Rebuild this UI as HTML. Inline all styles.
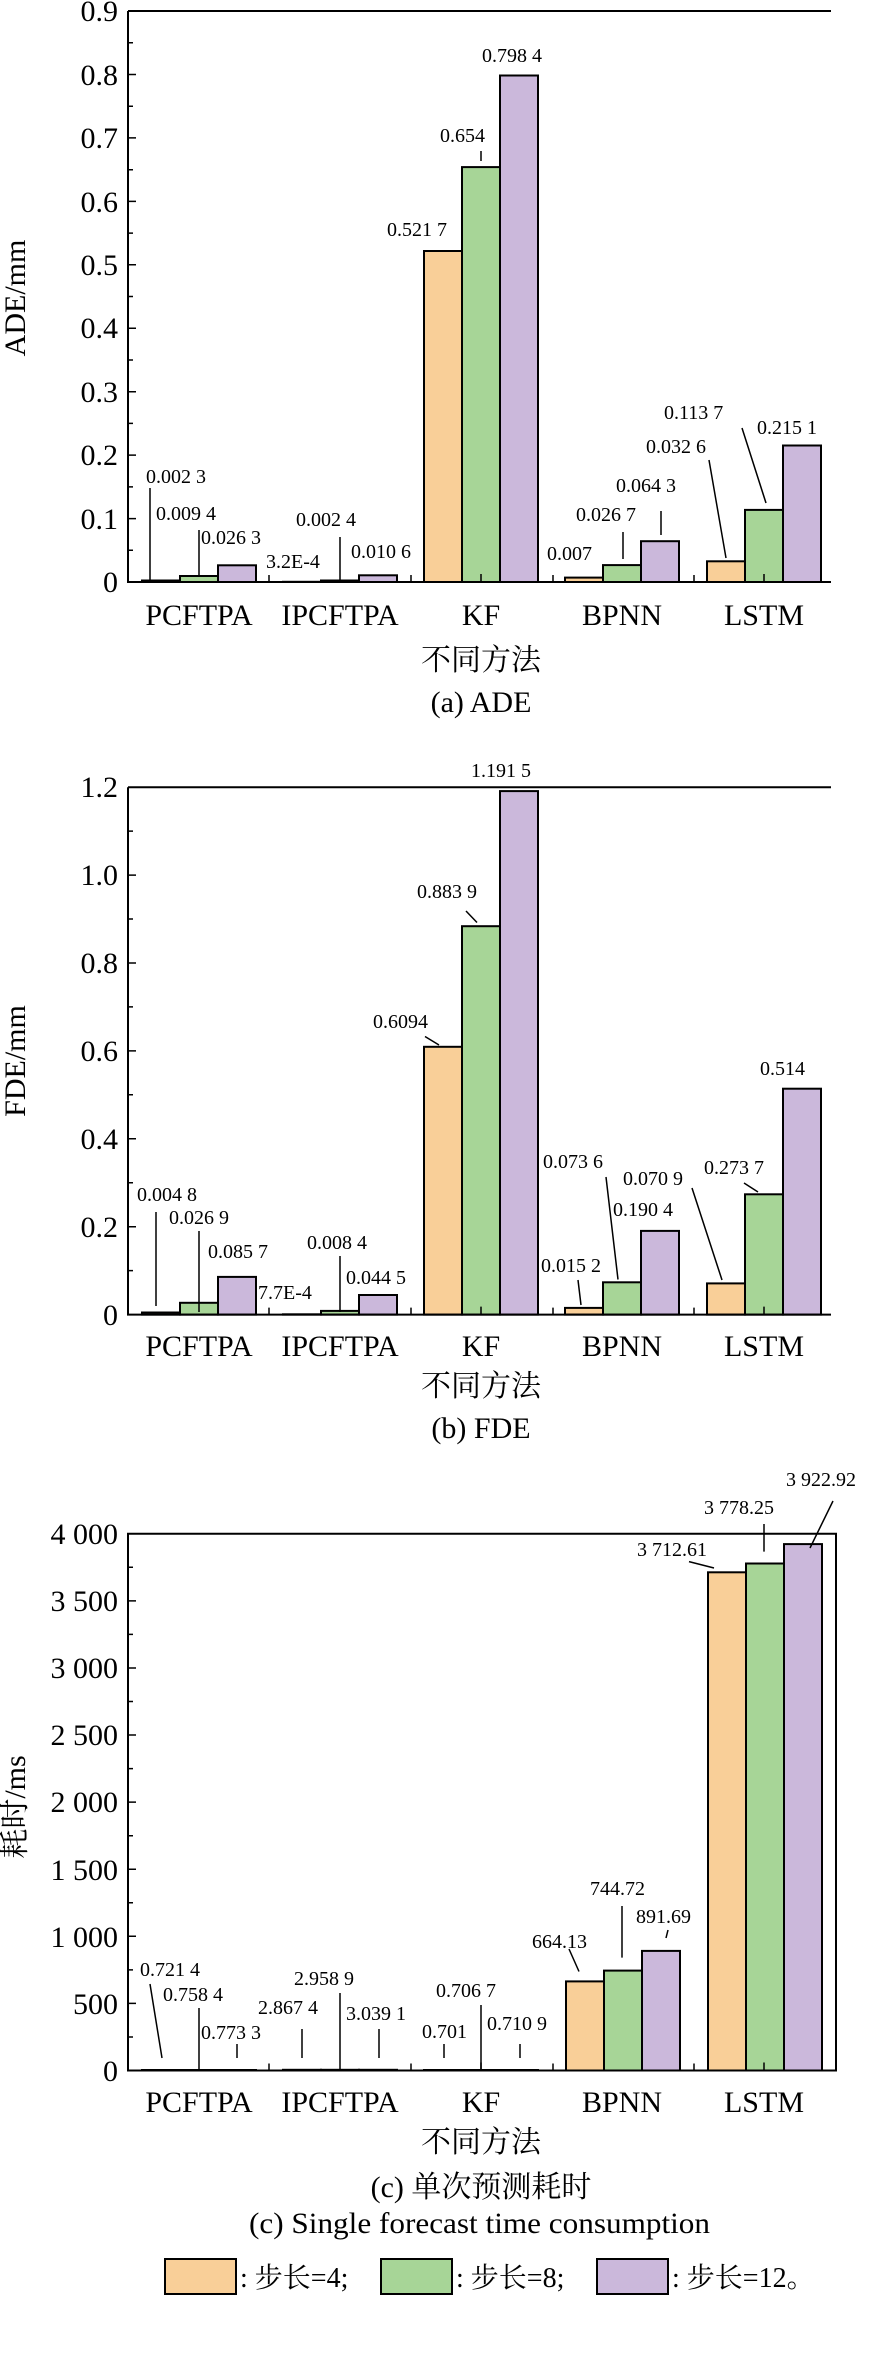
<!DOCTYPE html>
<html><head><meta charset="utf-8"><style>
html,body{margin:0;padding:0;background:#fff;}
svg{display:block;}
text{font-family:"Liberation Serif","Noto Serif CJK SC","Noto Sans CJK SC",serif;fill:#000;}
.t{font-size:30px;}
.a{font-size:20px;}
.c{font-size:30px;}
.o{fill:#f9cf98;stroke:#000;stroke-width:2;}
.g{fill:#a7d597;stroke:#000;stroke-width:2;}
.p{fill:#cbb8db;stroke:#000;stroke-width:2;}
.ln{stroke:#000;stroke-width:1.5;fill:none;}
.ax{stroke:#000;stroke-width:2;fill:none;}
</style></head><body>
<svg width="872" height="2368" viewBox="0 0 872 2368" xmlns="http://www.w3.org/2000/svg">
<!-- ===== Chart A ===== -->
<g>
<rect class="o" x="142" y="580.5" width="38" height="1.5"/>
<rect class="g" x="180" y="576" width="38" height="6"/>
<rect class="p" x="218" y="565.3" width="38" height="16.7"/>
<rect class="o" x="283" y="581.8" width="38" height="0.2"/>
<rect class="g" x="321" y="580.5" width="38" height="1.5"/>
<rect class="p" x="359" y="575.3" width="38" height="6.7"/>
<rect class="o" x="424" y="251" width="38" height="331"/>
<rect class="g" x="462" y="167.1" width="38" height="414.9"/>
<rect class="p" x="500" y="75.5" width="38" height="506.5"/>
<rect class="o" x="565" y="577.6" width="38" height="4.4"/>
<rect class="g" x="603" y="565.1" width="38" height="16.9"/>
<rect class="p" x="641" y="541.2" width="38" height="40.8"/>
<rect class="o" x="707" y="561.3" width="38" height="20.7"/>
<rect class="g" x="745" y="509.9" width="38" height="72.1"/>
<rect class="p" x="783" y="445.5" width="38" height="136.5"/>
<path class="ax" d="M128,11 V582 H831 M128,11 H831"/>
<path class="ln" d="M128,518.6h8M128,455.1h8M128,391.7h8M128,328.2h8M128,264.8h8M128,201.4h8M128,137.9h8M128,74.5h8
M128,550.3h5M128,486.9h5M128,423.4h5M128,360h5M128,296.5h5M128,233.1h5M128,169.7h5M128,106.2h5M128,42.8h5
M269,582v-7M411,582v-7M553,582v-7M694,582v-7M481,582v-8M764,582v-8"/>
<g class="t" text-anchor="end">
<text x="118" y="592">0</text><text x="118" y="529">0.1</text><text x="118" y="465">0.2</text><text x="118" y="402">0.3</text><text x="118" y="338">0.4</text><text x="118" y="275">0.5</text><text x="118" y="212">0.6</text><text x="118" y="148">0.7</text><text x="118" y="85">0.8</text><text x="118" y="21">0.9</text>
</g>
<text class="c" transform="translate(25,298) rotate(-90)" text-anchor="middle">ADE/mm</text>
<g class="c" text-anchor="middle">
<text x="199" y="625">PCFTPA</text><text x="340" y="625">IPCFTPA</text><text x="481" y="625">KF</text><text x="622" y="625">BPNN</text><text x="764" y="625">LSTM</text>
</g>
<text class="c" x="481" y="670" text-anchor="middle">不同方法</text>
<text class="t" x="481" y="712" text-anchor="middle">(a) ADE</text>
<g class="a">
<text x="146" y="483">0.002 3</text><text x="156" y="520">0.009 4</text><text x="201" y="544">0.026 3</text>
<text x="266" y="568">3.2E-4</text><text x="296" y="526">0.002 4</text><text x="351" y="558">0.010 6</text>
<text x="387" y="236">0.521 7</text><text x="440" y="142">0.654</text><text x="482" y="62">0.798 4</text>
<text x="547" y="560">0.007</text><text x="576" y="521">0.026 7</text><text x="616" y="492">0.064 3</text>
<text x="646" y="453">0.032 6</text><text x="664" y="419">0.113 7</text><text x="757" y="434">0.215 1</text>
</g>
<path class="ln" d="M150,488V580M199,530V576M340,537V581M481,151V161M623,532V559M661,511V535M709,460L726,558M742,428L766,503"/>
</g>

<!-- ===== Chart B ===== -->
<g>
<rect class="o" x="142" y="1312.5" width="38" height="2.1"/>
<rect class="g" x="180" y="1302.8" width="38" height="11.8"/>
<rect class="p" x="218" y="1276.9" width="38" height="37.7"/>
<rect class="o" x="283" y="1314.3" width="38" height="0.3"/>
<rect class="g" x="321" y="1310.9" width="38" height="3.7"/>
<rect class="p" x="359" y="1295" width="38" height="19.6"/>
<rect class="o" x="424" y="1046.8" width="38" height="267.8"/>
<rect class="g" x="462" y="926.2" width="38" height="388.4"/>
<rect class="p" x="500" y="791.1" width="38" height="523.5"/>
<rect class="o" x="565" y="1307.9" width="38" height="6.7"/>
<rect class="g" x="603" y="1282.3" width="38" height="32.3"/>
<rect class="p" x="641" y="1230.9" width="38" height="83.7"/>
<rect class="o" x="707" y="1283.4" width="38" height="31.2"/>
<rect class="g" x="745" y="1194.3" width="38" height="120.3"/>
<rect class="p" x="783" y="1088.7" width="38" height="225.9"/>
<path class="ax" d="M128,787.2 V1314.6 H831 M128,787.2 H831"/>
<path class="ln" d="M128,1226.7h8M128,1138.8h8M128,1050.9h8M128,963h8M128,875.1h8
M128,1270.6h5M128,1182.7h5M128,1094.8h5M128,1006.9h5M128,919h5M128,831.1h5
M269,1314.6v-7M411,1314.6v-7M553,1314.6v-7M694,1314.6v-7M481,1314.6v-8M764,1314.6v-8"/>
<g class="t" text-anchor="end">
<text x="118" y="1325">0</text><text x="118" y="1237">0.2</text><text x="118" y="1149">0.4</text><text x="118" y="1061">0.6</text><text x="118" y="973">0.8</text><text x="118" y="885">1.0</text><text x="118" y="797">1.2</text>
</g>
<text class="c" transform="translate(25,1061) rotate(-90)" text-anchor="middle">FDE/mm</text>
<g class="c" text-anchor="middle">
<text x="199" y="1356">PCFTPA</text><text x="340" y="1356">IPCFTPA</text><text x="481" y="1356">KF</text><text x="622" y="1356">BPNN</text><text x="764" y="1356">LSTM</text>
</g>
<text class="c" x="481" y="1396" text-anchor="middle">不同方法</text>
<text class="t" x="481" y="1438" text-anchor="middle">(b) FDE</text>
<g class="a">
<text x="137" y="1201">0.004 8</text><text x="169" y="1224">0.026 9</text><text x="208" y="1258">0.085 7</text>
<text x="258" y="1299">7.7E-4</text><text x="307" y="1249">0.008 4</text><text x="346" y="1284">0.044 5</text>
<text x="373" y="1028">0.6094</text><text x="417" y="898">0.883 9</text><text x="471" y="777">1.191 5</text>
<text x="541" y="1272">0.015 2</text><text x="543" y="1168">0.073 6</text><text x="613" y="1216">0.190 4</text>
<text x="623" y="1185">0.070 9</text><text x="704" y="1174">0.273 7</text><text x="760" y="1075">0.514</text>
</g>
<path class="ln" d="M156,1212V1306M199,1231V1312M340,1256V1312M425,1036.5L439,1045M466,911L477,922.5M578,1280L581,1305M606,1177L618,1279.5M692,1188L722,1280M744,1183L758,1192"/>
</g>

<!-- ===== Chart C ===== -->
<g>
<rect class="o" x="142" y="2070" width="38" height="0.5"/>
<rect class="g" x="180" y="2070" width="38" height="0.5"/>
<rect class="p" x="218" y="2070" width="38" height="0.5"/>
<rect class="o" x="283" y="2069.8" width="38" height="0.7"/>
<rect class="g" x="321" y="2069.8" width="38" height="0.7"/>
<rect class="p" x="359" y="2069.8" width="38" height="0.7"/>
<rect class="o" x="424" y="2070" width="38" height="0.5"/>
<rect class="g" x="462" y="2070" width="38" height="0.5"/>
<rect class="p" x="500" y="2070" width="38" height="0.5"/>
<rect class="o" x="566" y="1981.4" width="38" height="89.1"/>
<rect class="g" x="604" y="1970.6" width="38" height="99.9"/>
<rect class="p" x="642" y="1950.9" width="38" height="119.6"/>
<rect class="o" x="708" y="1572.3" width="38" height="498.2"/>
<rect class="g" x="746" y="1563.5" width="38" height="507"/>
<rect class="p" x="784" y="1544.1" width="38" height="526.4"/>
<path class="ax" d="M128,1533.8 H836 V2070.5 H128 Z"/>
<path class="ln" d="M128,2003.4h8M128,1936.3h8M128,1869.2h8M128,1802.1h8M128,1735h8M128,1668h8M128,1600.9h8
M128,2037h5M128,1969.9h5M128,1902.8h5M128,1835.7h5M128,1768.6h5M128,1701.5h5M128,1634.4h5M128,1567.3h5
M269,2070.5v-7M411,2070.5v-7M553,2070.5v-7M694,2070.5v-7M481,2070.5v-8M764,2070.5v-8"/>
<g class="t" text-anchor="end">
<text x="118" y="2081">0</text><text x="118" y="2014">500</text><text x="118" y="1947">1 000</text><text x="118" y="1880">1 500</text><text x="118" y="1812">2 000</text><text x="118" y="1745">2 500</text><text x="118" y="1678">3 000</text><text x="118" y="1611">3 500</text><text x="118" y="1544">4 000</text>
</g>
<text class="c" transform="translate(25,1807) rotate(-90)" text-anchor="middle">耗时/ms</text>
<g class="c" text-anchor="middle">
<text x="199" y="2112">PCFTPA</text><text x="340" y="2112">IPCFTPA</text><text x="481" y="2112">KF</text><text x="622" y="2112">BPNN</text><text x="764" y="2112">LSTM</text>
</g>
<text class="c" x="481" y="2152" text-anchor="middle">不同方法</text>
<text class="t" x="481" y="2197" text-anchor="middle">(c) 单次预测耗时</text>
<text class="t" x="249" y="2233" textLength="461" lengthAdjust="spacingAndGlyphs">(c) Single forecast time consumption</text>
<g class="a">
<text x="140" y="1976">0.721 4</text><text x="163" y="2001">0.758 4</text><text x="201" y="2039">0.773 3</text>
<text x="258" y="2014">2.867 4</text><text x="294" y="1985">2.958 9</text><text x="346" y="2020">3.039 1</text>
<text x="436" y="1997">0.706 7</text><text x="422" y="2038">0.701</text><text x="487" y="2030">0.710 9</text>
<text x="532" y="1948">664.13</text><text x="590" y="1895">744.72</text><text x="636" y="1923">891.69</text>
<text x="637" y="1556">3 712.61</text><text x="704" y="1514">3 778.25</text><text x="786" y="1486">3 922.92</text>
</g>
<path class="ln" d="M150,1984L162,2058M199,2008V2069M237,2044V2058M302,2029V2058M340,1993V2069M379,2029V2058M481,2005V2069M444,2044V2058M520,2044V2058
M569,1949L579,1971.5M622,1906V1957.6M668,1930L666,1938M689,1561.6L714,1568M764,1524V1551.6M833,1501L810,1548"/>
</g>

<!-- Legend -->
<g>
<rect class="o" x="165" y="2259" width="71" height="35"/>
<rect class="g" x="381" y="2259" width="71" height="35"/>
<rect class="p" x="597" y="2259" width="71" height="35"/>
<text x="240" y="2287" font-size="28">: 步长=4;</text>
<text x="456" y="2287" font-size="28">: 步长=8;</text>
<text x="672" y="2287" font-size="28">: 步长=12。</text>
</g>
</svg>
</body></html>
